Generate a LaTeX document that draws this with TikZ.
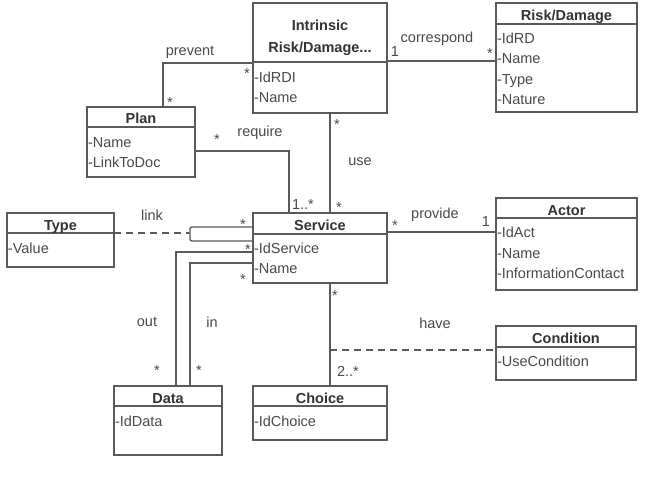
\documentclass[tikz,border=0pt]{standalone}
\usepackage{fontspec}
\setmainfont{Liberation Sans}
\usetikzlibrary{calc}
\definecolor{ln}{HTML}{5A5A5A}
\definecolor{tx}{HTML}{4A4A4A}
\definecolor{tt}{HTML}{333333}
\begin{document}
\begin{tikzpicture}[x=1pt,y=-1pt,
  every node/.style={inner sep=0pt,outer sep=0pt},
  cls/.style={draw=ln,line width=1.4pt,fill=white,anchor=north west},
  div/.style={draw=ln,line width=1.2pt},
  ttl/.style={anchor=base,text=tt,font=\fontsize{14.5}{16}\selectfont\bfseries},
  att/.style={anchor=base west,text=tx,font=\fontsize{14.5}{16}\selectfont},
  lab/.style={text=tx,font=\fontsize{14.5}{16}\selectfont},
  conn/.style={draw=ln,line width=1.4pt},
  dconn/.style={conn,dash pattern=on 7pt off 5pt}]
\useasboundingbox (0,0) rectangle (646,480);
\fill[white] (0,0) rectangle (646,480);

% ---------- class boxes ----------
\node[cls,minimum width=134pt,minimum height=110pt] (intr) at (253,3) {};
\node[cls,minimum width=141pt,minimum height=109pt] (rd) at (496,3) {};
\node[cls,minimum width=108pt,minimum height=70pt] (plan) at (87,107) {};
\node[cls,minimum width=134pt,minimum height=70pt] (serv) at (253,213) {};
\node[cls,minimum width=107pt,minimum height=54pt] (type) at (7,213) {};
\node[cls,minimum width=141pt,minimum height=92pt] (actor) at (496,198) {};
\node[cls,minimum width=140pt,minimum height=54pt] (cond) at (496,326) {};
\node[cls,minimum width=108pt,minimum height=69pt] (data) at (114,386) {};
\node[cls,minimum width=134pt,minimum height=54pt] (choice) at (253,386) {};

% ---------- connectors ----------
% correspond
\draw[conn] ($(intr.north east)+(0,58)$) -- ($(rd.north west)+(0,58)$);
% prevent
\draw[conn] ($(intr.north west)+(0,60)$) -| ($(plan.north west)+(76,0)$);
% require
\draw[conn] ($(plan.north east)+(0,44)$) -| ($(serv.north west)+(36,0)$);
% use
\draw[conn] ($(intr.south west)+(77,0)$) -- ($(serv.north west)+(77,0)$);
% provide
\draw[conn] ($(serv.north east)+(0,19)$) -- ($(actor.north west)+(0,34)$);
% link (self association)
\coordinate (lk) at ($(serv.north west)+(-63,20)$);
\draw[conn,rounded corners=2pt] ($(serv.north west)+(0,14)$) -- ++(-63,0) -- ++(0,14) -- ($(serv.north west)+(0,28)$);
\draw[dconn] ($(type.north east)+(0,20)$) -- (lk);
% out / in
\draw[conn] ($(serv.north west)+(0,39)$) -| ($(data.north west)+(62,0)$);
\draw[conn] ($(serv.north west)+(0,50)$) -| ($(data.north west)+(76,0)$);
% have
\draw[conn] ($(serv.south west)+(77,0)$) -- ($(choice.north west)+(77,0)$);
\coordinate (hv) at ($(serv.south west)+(77,67)$);
\draw[dconn] (hv) -- ($(cond.north west)+(0,24)$);

% ---------- compartments and texts ----------
\draw[div] (253,62) -- (387,62);
\node[ttl] at (320,30) {Intrinsic};
\node[ttl] at (320,52) {Risk/Damage...};
\node[att] at (254,82) {-IdRDI};
\node[att] at (254,102) {-Name};

\draw[div] (496,24) -- (637,24);
\node[ttl] at (566.5,20) {Risk/Damage};
\node[att] at (497,43) {-IdRD};
\node[att] at (497,63) {-Name};
\node[att] at (497,84) {-Type};
\node[att] at (497,104) {-Nature};

\draw[div] (87,127) -- (195,127);
\node[ttl] at (141,123) {Plan};
\node[att] at (88,147) {-Name};
\node[att] at (88,167) {-LinkToDoc};

\draw[div] (253,234) -- (387,234);
\node[ttl] at (320,230) {Service};
\node[att] at (254,253) {-IdService};
\node[att] at (254,273) {-Name};

\draw[div] (7,233) -- (114,233);
\node[ttl] at (60.5,230) {Type};
\node[att] at (8,253) {-Value};

\draw[div] (496,218) -- (637,218);
\node[ttl] at (566.5,215) {Actor};
\node[att] at (497,237) {-IdAct};
\node[att] at (497,258) {-Name};
\node[att] at (497,278) {-InformationContact};

\draw[div] (496,347) -- (636,347);
\node[ttl] at (566,343) {Condition};
\node[att] at (497,366) {-UseCondition};

\draw[div] (114,406) -- (222,406);
\node[ttl] at (168,403) {Data};
\node[att] at (115,426) {-IdData};

\draw[div] (253,406) -- (387,406);
\node[ttl] at (320,403) {Choice};
\node[att] at (254,426) {-IdChoice};

% ---------- labels ----------
\node[lab] at (190,52) {prevent};
\node[lab] at (437,39) {correspond};
\node[lab] at (260,133) {require};
\node[lab] at (360,162) {use};
\node[lab] at (152,215) {link};
\node[lab] at (435,215) {provide};
\node[lab] at (147,322) {out};
\node[lab] at (212,322) {in};
\node[lab] at (435,323) {have};
\node[lab] at (395,52) {1};
\node[lab] at (486,222) {1};
\node[lab] at (303,205) {1..*};
\node[lab] at (348,371) {2..*};
% multiplicity stars
\foreach \p in {(247,74),(170,103),(217,140),(337,125),(490,54),(339,208),(243,225),(248,250),(243,280),(395,226),(157,371),(199,371),(335,296)}
  \node[lab] at \p {*};
\end{tikzpicture}
\end{document}
